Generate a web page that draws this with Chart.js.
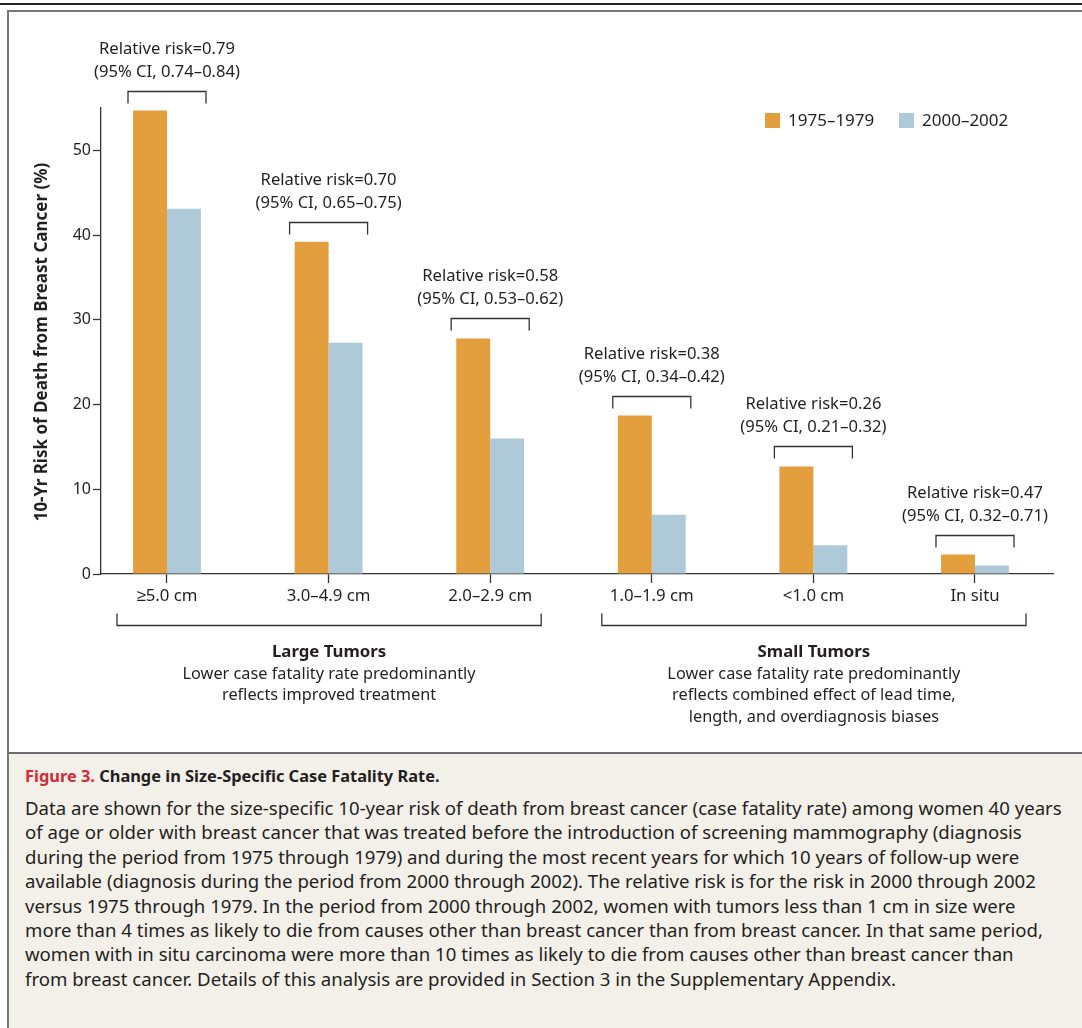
<!DOCTYPE html>
<html>
<head>
<meta charset="utf-8">
<script src="https://cdn.jsdelivr.net/npm/chart.js@4"></script>
<style>
  body { margin: 0; background: #fff; }
  #page { position: relative; width: 1082px; height: 1028px; overflow: hidden; font-family: "Noto Sans", sans-serif; color: #231f20; }
  #topline { position: absolute; left: 0; top: 3px; width: 1082px; height: 2px; background: #222; }
  #box { position: absolute; left: 7px; top: 10px; width: 1090px; height: 740px; border-left: 2px solid #777; border-top: 2px solid #777; border-bottom: 2px solid #6d6d6d; }
  #cap { position: absolute; left: 7px; top: 754px; width: 1080px; height: 280px; background: #f3f0e9; border-left: 2px solid #777; }
  .t { position: absolute; left: 25px; white-space: nowrap; font-size: 18.6px; line-height: 24px; }
  .b { font-weight: bold; font-size: 16.4px; }
  .red { color: #d42a36; }
  canvas { position: absolute; left: 0; top: 0; }
</style>
</head>
<body>
<div id="page">
  <div id="topline"></div>
  <div id="cap"></div>
  <div id="box"></div>
  <canvas id="chart" width="1082" height="748"></canvas>
  <div id="caption"></div>
</div>
<script>
var sizeLabels = ['\u22655.0 cm', '3.0\u20134.9 cm', '2.0\u20132.9 cm', '1.0\u20131.9 cm', '<1.0 cm', 'In situ'];
var risk1975 = [54.7, 39.2, 27.8, 18.7, 12.7, 2.3];
var risk2000 = [43.1, 27.3, 16.0, 7.0, 3.4, 1.0];
var rrLabels = ['Relative risk=0.79', 'Relative risk=0.70', 'Relative risk=0.58', 'Relative risk=0.38', 'Relative risk=0.26', 'Relative risk=0.47'];
var ciLabels = ['(95% CI, 0.74\u20130.84)', '(95% CI, 0.65\u20130.75)', '(95% CI, 0.53\u20130.62)', '(95% CI, 0.34\u20130.42)', '(95% CI, 0.21\u20130.32)', '(95% CI, 0.32\u20130.71)'];
var seriesNames = ['1975\u20131979', '2000\u20132002'];
var yTicks = [0, 10, 20, 30, 40, 50];
var groups = [
  { from: 0, to: 2, title: 'Large Tumors', lines: ['Lower case fatality rate predominantly', 'reflects improved treatment'] },
  { from: 3, to: 5, title: 'Small Tumors', lines: ['Lower case fatality rate predominantly', 'reflects combined effect of lead time,', 'length, and overdiagnosis biases'] }
];
var captionTitle = 'Change in Size-Specific Case Fatality Rate.';
var captionLines = [
  'Data are shown for the size-specific 10-year risk of death from breast cancer (case fatality rate) among women 40 years',
  'of age or older with breast cancer that was treated before the introduction of screening mammography (diagnosis',
  'during the period from 1975 through 1979) and during the most recent years for which 10 years of follow-up were',
  'available (diagnosis during the period from 2000 through 2002). The relative risk is for the risk in 2000 through 2002',
  'versus 1975 through 1979. In the period from 2000 through 2002, women with tumors less than 1 cm in size were',
  'more than 4 times as likely to die from causes other than breast cancer than from breast cancer. In that same period,',
  'women with in situ carcinoma were more than 10 times as likely to die from causes other than breast cancer than',
  'from breast cancer. Details of this analysis are provided in Section 3 in the Supplementary Appendix.'
];

var orange = '#e39e3d';
var blue = '#aecad8';
var ink = '#231f20';
var FONT = '"Noto Sans", sans-serif';

// caption (html text)
var cap = document.getElementById('caption');
var h = '<div class="t b" style="top:764px"><span class="red">Figure 3.</span> ' + captionTitle + '</div>';
captionLines.forEach(function(line, i) {
  h += '<div class="t" style="top:' + (796 + i * 24.4) + 'px">' + line + '</div>';
});
cap.innerHTML = h;

function pts(arr) {
  return arr.map(function(v, i) { return { x: i, y: v }; });
}

var extras = {
  id: 'extras',
  afterDraw: function(chart) {
    var ctx = chart.ctx;
    var xs = chart.scales.x, ys = chart.scales.y;
    ctx.save();
    ctx.fillStyle = ink;
    ctx.strokeStyle = '#333';
    ctx.lineWidth = 1.3;
    ctx.textAlign = 'center';
    ctx.textBaseline = 'middle';

    // relative risk brackets
    sizeLabels.forEach(function(l, i) {
      var cx = xs.getPixelForValue(i);
      var top = ys.getPixelForValue(Math.max(risk1975[i], risk2000[i]));
      var by = Math.round(top - 20) + 0.5;
      ctx.beginPath();
      ctx.moveTo(cx - 39, by + 12);
      ctx.lineTo(cx - 39, by);
      ctx.lineTo(cx + 39, by);
      ctx.lineTo(cx + 39, by + 12);
      ctx.stroke();
      ctx.font = '16.6px ' + FONT;
      ctx.fillText(rrLabels[i], cx, by - 42);
      ctx.fillText(ciLabels[i], cx, by - 19);
    });

    // group brackets and notes
    groups.forEach(function(g) {
      var x1 = xs.getPixelForValue(g.from) - 50;
      var x2 = xs.getPixelForValue(g.to) + 51;
      var gy = 625.5;
      ctx.beginPath();
      ctx.moveTo(x1, gy - 12);
      ctx.lineTo(x1, gy);
      ctx.lineTo(x2, gy);
      ctx.lineTo(x2, gy - 12);
      ctx.stroke();
      var mx = (x1 + x2) / 2;
      ctx.font = 'bold 16.8px ' + FONT;
      ctx.fillText(g.title, mx, 652);
      ctx.font = '16.3px ' + FONT;
      g.lines.forEach(function(t, k) {
        ctx.fillText(t, mx, 674 + k * 21.5);
      });
    });

    // y title
    ctx.save();
    ctx.translate(42, 342);
    ctx.rotate(-Math.PI / 2);
    ctx.font = 'bold 17px ' + FONT;
    ctx.fillText('10-Yr Risk of Death from Breast Cancer (%)', 0, 0);
    ctx.restore();

    // legend
    ctx.textAlign = 'left';
    ctx.font = '17px ' + FONT;
    var lx = [765, 899];
    chart.data.datasets.forEach(function(ds, k) {
      ctx.fillStyle = ds.backgroundColor;
      ctx.fillRect(lx[k], 113, 15, 15);
      ctx.fillStyle = ink;
      ctx.fillText(ds.label, lx[k] + 23, 121);
    });
    ctx.restore();
  }
};

new Chart(document.getElementById('chart'), {
  type: 'bar',
  data: {
    datasets: [
      { label: seriesNames[0], data: pts(risk1975), backgroundColor: orange },
      { label: seriesNames[1], data: pts(risk2000), backgroundColor: blue }
    ]
  },
  options: {
    responsive: false,
    animation: false,
    layout: { padding: { left: 0, right: 29, top: 108, bottom: 134 } },
    datasets: { bar: { categoryPercentage: 0.42, barPercentage: 1.0 } },
    plugins: { legend: { display: false }, tooltip: { enabled: false } },
    scales: {
      x: {
        type: 'linear',
        offset: false,
        min: -0.4084,
        max: 5.4827,
        afterBuildTicks: function(s) { s.ticks = sizeLabels.map(function(l, i) { return { value: i }; }); },
        afterFit: function(s) { s.height = 40; },
        ticks: {
          autoSkip: false,
          maxRotation: 0,
          padding: 3,
          color: ink,
          font: { family: FONT, size: 16.8 },
          callback: function(v) { return sizeLabels[v]; }
        },
        grid: { offset: false, drawOnChartArea: false, tickLength: 9, color: '#333', tickWidth: 1.3 },
        border: { color: '#333', width: 1.3 }
      },
      y: {
        min: 0,
        max: 55,
        afterBuildTicks: function(s) { s.ticks = yTicks.map(function(v) { return { value: v }; }); },
        afterFit: function(s) { s.width = 101; },
        ticks: { color: ink, padding: 2, font: { family: FONT, size: 16 } },
        grid: { drawOnChartArea: false, tickLength: 8, color: '#333', tickWidth: 1.3 },
        border: { color: '#333', width: 1.3 }
      }
    }
  },
  plugins: [extras]
});
</script>
</body>
</html>
